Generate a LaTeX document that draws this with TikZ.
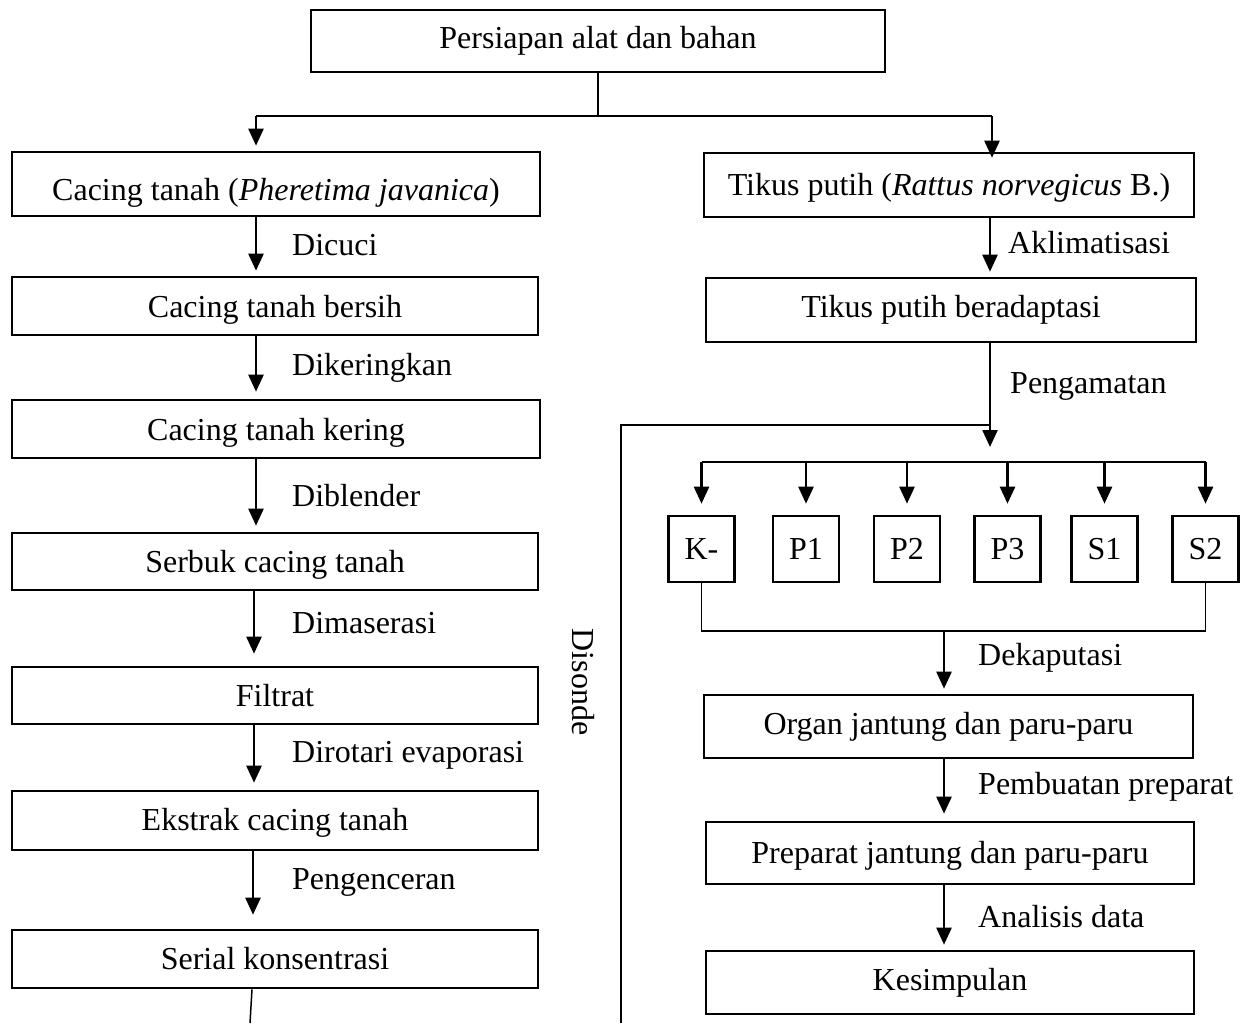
\documentclass[tikz,border=0pt]{standalone}
\usepackage{fontspec}
\setmainfont{Liberation Serif}
\usetikzlibrary{arrows.meta,calc}
\begin{document}
\begin{tikzpicture}[x=1pt,y=-1pt,
  box/.style={draw,line width=2.6pt,inner sep=0pt,font=\fontsize{32}{38}\selectfont},
  wbox/.style={box,text height=26pt,text depth=4pt},
  sbox/.style={box,minimum width=66pt,minimum height=66pt},
  lbl/.style={anchor=west,inner sep=0pt,font=\fontsize{32}{38}\selectfont},
  arr/.style={line width=2.4pt,-{Triangle[length=17pt,width=15pt]}},
  ln/.style={line width=2pt},
  thinln/.style={line width=1.5pt}]
\useasboundingbox (0,0) rectangle (1253,1023);
% top
\node[box,minimum width=574pt,minimum height=62pt] (top) at (598,41) {Persiapan alat dan bahan};
% left column
\node[wbox,text height=34pt,text depth=2pt,minimum width=528pt,minimum height=64pt] (c1) at (276,184) {Cacing tanah (\textit{Pheretima javanica})};
\node[wbox,minimum width=526pt,minimum height=58pt] (c2) at (275,306) {Cacing tanah bersih};
\node[wbox,minimum width=528pt,minimum height=58pt] (c3) at (276,429) {Cacing tanah kering};
\node[wbox,minimum width=526pt,minimum height=57pt] (c4) at (275,561.5) {Serbuk cacing tanah};
\node[box,minimum width=526pt,minimum height=57pt] (c5) at (275,695.5) {Filtrat};
\node[wbox,text height=24pt,minimum width=526pt,minimum height=59pt] (c6) at (275,820.5) {Ekstrak cacing tanah};
\node[box,minimum width=526pt,minimum height=58pt] (c7) at (275,959) {Serial konsentrasi};
% right column
\node[wbox,text height=24pt,minimum width=490pt,minimum height=64pt] (r1) at (949,185) {Tikus putih (\textit{Rattus norvegicus} B.)};
\node[box,minimum width=490pt,minimum height=64pt] (r2) at (951,310) {Tikus putih beradaptasi};
\node[sbox] (k) at (701.5,549) {K-};
\node[sbox] (p1) at (806,549) {P1};
\node[sbox] (p2) at (907,549) {P2};
\node[sbox] (p3) at (1007.5,549) {P3};
\node[sbox] (s1) at (1104.5,549) {S1};
\node[sbox] (s2) at (1205.5,549) {S2};
\node[box,minimum width=489pt,minimum height=63pt] (r3) at (948.5,726.5) {Organ jantung dan paru-paru};
\node[wbox,text height=24pt,minimum width=488pt,minimum height=62pt] (r4) at (950,853) {Preparat jantung dan paru-paru};
\node[box,minimum width=488pt,minimum height=63pt] (r5) at (950,982.5) {Kesimpulan};
% coordinates
\coordinate (xl) at (256,0);
\coordinate (xr) at (990,0);
\coordinate (xm) at (944,0);
\coordinate (tj) at (598,116);
\coordinate (tl) at (256,116);
\coordinate (tr) at (992,116);
\coordinate (dj) at (990,425);
\coordinate (dl) at (621,425);
\coordinate (db) at (621,1023);
\coordinate (bl) at (701.5,462);
\coordinate (br) at (1205.5,462);
\coordinate (me) at (944,631);
\coordinate (ce) at (250,1023);
% top split
\draw[thinln] (top.south) -- (tj);
\draw[ln] (tl) -- (tr);
\draw[arr,shorten >=5pt] (tl) -- (xl |- c1.north);
\draw[arr,shorten >=-6pt] (tr) -- (tr |- r1.north);
% left chain
\draw[arr,shorten >=5pt] (xl |- c1.south) -- (xl |- c2.north);
\draw[arr,shorten >=7pt] (xl |- c2.south) -- (xl |- c3.north);
\draw[arr,shorten >=6pt] (xl |- c3.south) -- (xl |- c4.north);
\draw[arr,shorten >=12pt] ($(xl |- c4.south)+(-2,0)$) -- ($(xl |- c5.north)+(-2,0)$);
\draw[arr,shorten >=7pt] ($(xl |- c5.south)+(-2,0)$) -- ($(xl |- c6.north)+(-2,0)$);
\draw[arr,shorten >=14pt] ($(xl |- c6.south)+(-3,0)$) -- ($(xl |- c7.north)+(-3,0)$);
\draw[thinln] ($(xl |- c7.south)+(-4,0)$) -- (ce);
\node[lbl] (l1) at (292,245) {Dicuci};
\node[lbl] (l2) at (292,368) {Dikeringkan};
\node[lbl] (l3) at (292,496) {Diblender};
\node[lbl] (l4) at (292,623) {Dimaserasi};
\node[lbl] (l5) at (292,755) {Dirotari evaporasi};
\node[lbl] (l6) at (292,882) {Pengenceran};
% right chain
\draw[arr,shorten >=5pt] (xr |- r1.south) -- (xr |- r2.north);
\node[lbl] (l7) at (1008,243) {Aklimatisasi};
\draw[ln] (xr |- r2.south) -- (dj);
\draw[arr] (dj) -- (990,447);
\node[lbl] (l8) at (1010,386) {Pengamatan};
\draw[ln] (dj) -- (dl) -- (db);
\node[inner sep=0pt,rotate=-90,font=\fontsize{32}{38}\selectfont] (dis) at (583,682) {Disonde};
% branch
\draw[ln] (bl) -- (br);
\foreach \n in {k,p1,p2,p3,s1,s2}{
  \draw[arr,shorten >=11pt] (\n.north |- bl) -- (\n.north);
}
% merge
\draw[thinln] (k.south) -- (k.south |- me) -- (s2.south |- me) -- (s2.south);
\draw[arr,shorten >=5pt] (me) -- (xm |- r3.north);
\node[lbl] (l9) at (978,658) {Dekaputasi};
\draw[arr,shorten >=7pt] (xm |- r3.south) -- (xm |- r4.north);
\node[lbl] (l10) at (978,787) {Pembuatan preparat};
\draw[arr,shorten >=5pt] (xm |- r4.south) -- (xm |- r5.north);
\node[lbl] (l11) at (978,917) {Analisis data};
\end{tikzpicture}
\end{document}
